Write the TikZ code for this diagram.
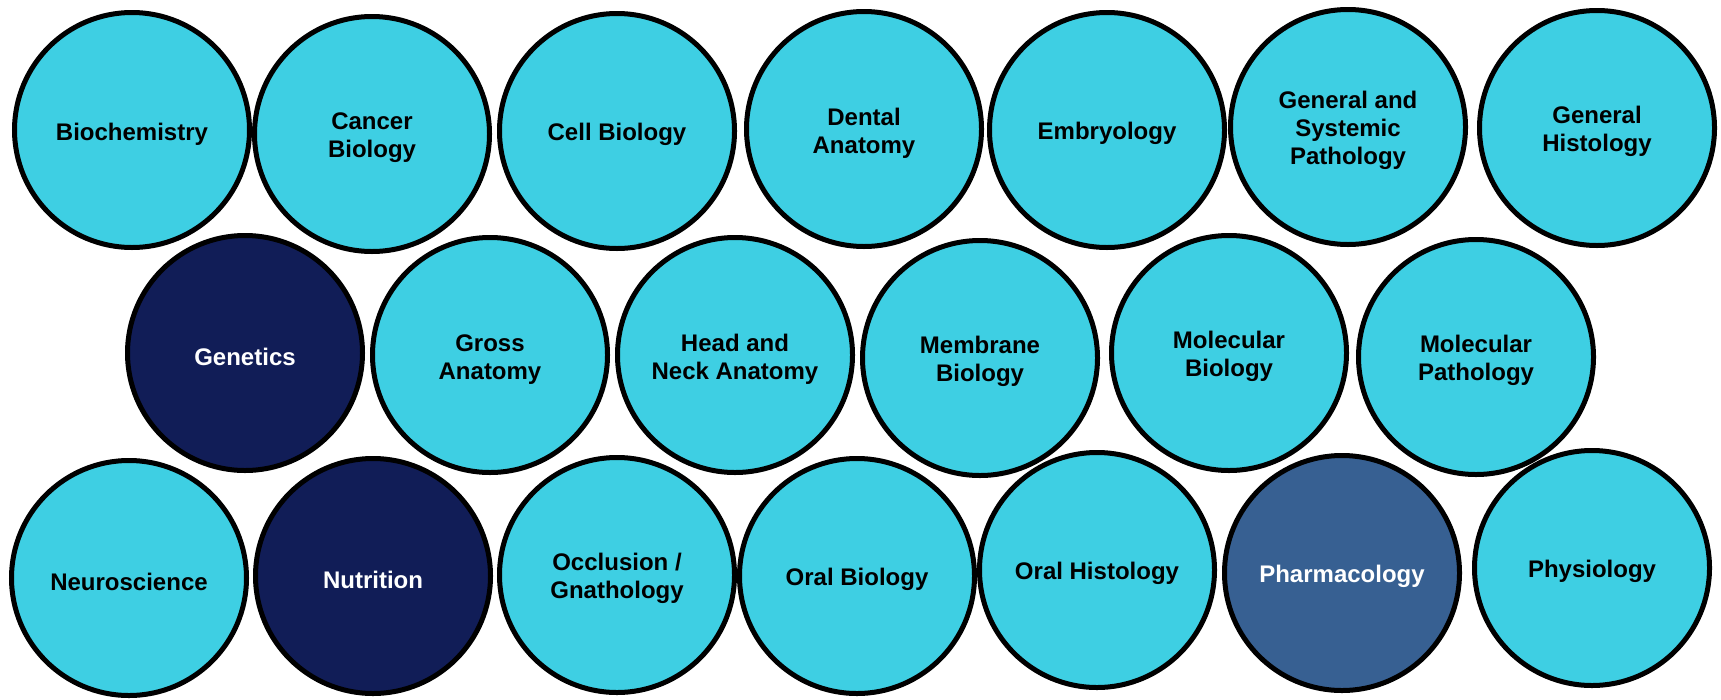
\documentclass[tikz,border=0pt]{standalone}
\usepackage{fontspec}
\setmainfont{Liberation Sans}
\usepackage{xcolor}
\usetikzlibrary{shapes}
\definecolor{topiccyan}{RGB}{62,207,227}
\definecolor{topicnavy}{RGB}{17,29,87}
\definecolor{topicsteel}{RGB}{55,96,146}
\tikzset{
  topic/.style={circle, draw=black, line width=5pt, fill=topiccyan, minimum size=235pt,
    inner sep=0pt, align=center, text height=25pt, font=\fontsize{24}{28}\selectfont\bfseries, text=black},
  twoline/.style={text height=53pt},
  threeline/.style={text height=81pt},
  topicdark/.style={topic, fill=topicnavy, text=white},
  topicmid/.style={topic, fill=topicsteel, text=white}
}
\begin{document}
\begin{tikzpicture}[x=1pt,y=-1pt]
\useasboundingbox (0,0) rectangle (1721,699);

%Row 1
\node [topic] (biochem) at (132,130) {Biochemistry};
\node [topic,twoline] (cancer) at (372,134) {Cancer\\Biology};
\node [topic] (cellbio) at (617,131) {Cell Biology};
\node [topic,twoline] (dental) at (864,129) {Dental\\Anatomy};
\node [topic] (embryo) at (1107,130) {Embryology};
\node [topic,threeline] (genpath) at (1348,127) {General and\\Systemic\\Pathology};
\node [topic,twoline] (genhist) at (1597,128) {General\\Histology};

%Row 2
\node [topicdark] (genetics) at (245,353) {Genetics};
\node [topic,twoline] (gross) at (490,355) {Gross\\Anatomy};
\node [topic,twoline] (headneck) at (735,355) {Head and\\Neck Anatomy};
\node [topic,twoline] (membrane) at (980,358) {Membrane\\Biology};
\node [topic,twoline] (molbio) at (1229,353) {Molecular\\Biology};
\node [topic,twoline] (molpath) at (1476,357) {Molecular\\Pathology};

%Row 3
\node [topic] (neuro) at (129,578) {Neuroscience};
\node [topicdark] (nutrition) at (373,576) {Nutrition};
\node [topic,twoline] (occlusion) at (617,575) {Occlusion /\\Gnathology};
\node [topic] (oralbio) at (857,576) {Oral Biology};
\node [topic] (oralhist) at (1097,570) {Oral Histology};
\node [topicmid] (pharma) at (1342,573) {Pharmacology};
\node [topic] (physio) at (1592,568) {Physiology};

\end{tikzpicture}
\end{document}
